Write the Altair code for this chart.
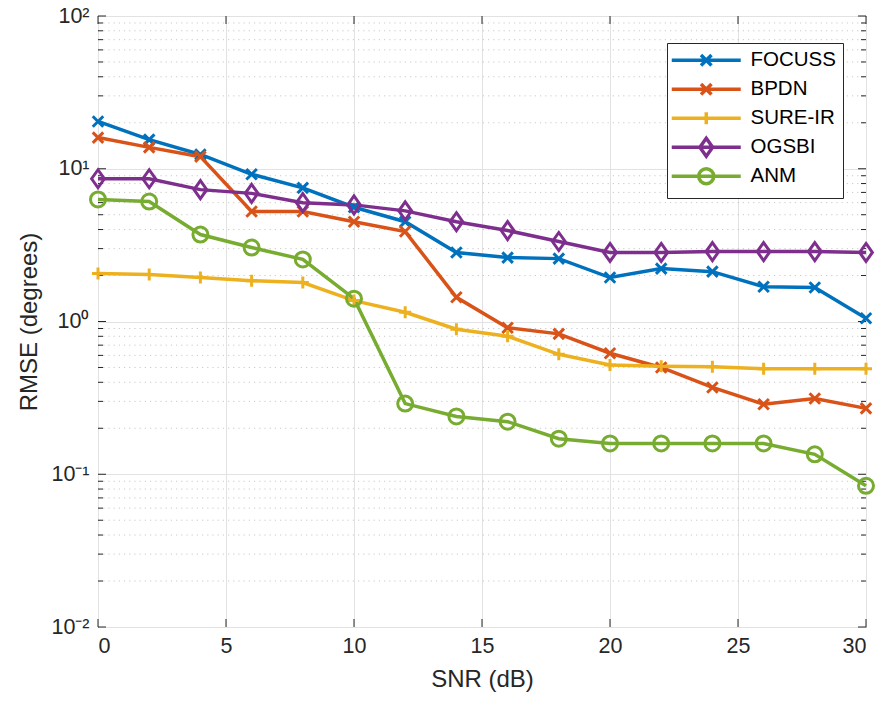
import altair as alt
import pandas as pd

# ---------------- data ----------------
snr = [0, 2, 4, 6, 8, 10, 12, 14, 16, 18, 20, 22, 24, 26, 28, 30]
focuss = [20.4, 15.5, 12.4, 9.2, 7.5, 5.6, 4.5, 2.83, 2.62, 2.58, 1.94, 2.22, 2.12, 1.69, 1.67, 1.05]
bpdn = [16.0, 13.8, 12.0, 5.25, 5.25, 4.5, 3.88, 1.44, 0.91, 0.83, 0.62, 0.50, 0.37, 0.287, 0.313, 0.27]
sure_ir = [2.06, 2.03, 1.94, 1.85, 1.80, 1.37, 1.15, 0.89, 0.80, 0.61, 0.52, 0.51, 0.505, 0.49, 0.49, 0.49]
ogsbi = [8.6, 8.6, 7.3, 6.9, 6.0, 5.8, 5.3, 4.5, 3.94, 3.34, 2.83, 2.83, 2.87, 2.87, 2.87, 2.83]
anm = [6.3, 6.1, 3.71, 3.05, 2.55, 1.41, 0.29, 0.239, 0.221, 0.171, 0.159, 0.159, 0.159, 0.159, 0.135, 0.084]

names = ["FOCUSS", "BPDN", "SURE-IR", "OGSBI", "ANM"]
colors = ["#0072BD", "#D95319", "#EDB120", "#7E2F8E", "#77AC30"]
series_values = [focuss, bpdn, sure_ir, ogsbi, anm]

x_ticks = [0, 5, 10, 15, 20, 25, 30]
y_major = [0.01, 0.1, 1, 10, 100]
y_minor = [m * d for d in [0.01, 0.1, 1, 10] for m in range(2, 10)]

mk_x = "M-0.7,-0.7L0.7,0.7M-0.7,0.7L0.7,-0.7"
mk_plus = "M-0.8,0L0.8,0M0,-0.8L0,0.8"
mk_diamond = "M0,-1.2L0.85,0L0,1.2L-0.85,0Z"
mk_circle = "M1,0A1,1 0 1,1 -1,0A1,1 0 1,1 1,0Z"
markers = [mk_x, mk_x, mk_plus, mk_diamond, mk_circle]
leg_line = "M-4.6,0L4.6,0"
legend_shapes = [leg_line + m for m in markers]

rows = []
for n, vals in zip(names, series_values):
    for s, v in zip(snr, vals):
        rows.append({"snr": s, "value": v, "series": n})
df = pd.DataFrame(rows)

W, H = 768, 611
FONT = "Liberation Sans"
TXT = "#262626"
LW = 3.5
MW = 3.0

xscale = alt.Scale(domain=[0, 30], nice=False, zero=False)
yscale = alt.Scale(type="log", domain=[0.01, 100], nice=False)
cscale = alt.Scale(domain=names, range=colors)

label_expr = ("datum.value > 50 ? '10²' : datum.value > 5 ? '10¹' : "
              "datum.value > 0.5 ? '10⁰' : datum.value > 0.05 ? '10⁻¹' : '10⁻²'")

x_axis = alt.Axis(values=x_ticks, title="SNR (dB)", grid=True, ticks=False,
                  domain=False, labelPadding=8, titlePadding=11)
y_axis = alt.Axis(values=y_major, title="RMSE (degrees)", grid=True, ticks=False,
                  domain=False, labelExpr=label_expr, labelPadding=9, titlePadding=9)

leg_props = dict(title=None, orient="none", legendX=569, legendY=27,
                 padding=7, strokeColor=TXT, fillColor="white",
                 labelFont=FONT, labelFontSize=20.5, labelColor="black",
                 symbolSize=225, symbolStrokeWidth=LW, symbolOffset=22,
                 labelOffset=34, rowPadding=-4, gridAlign="all", symbolOpacity=1)


def X():
    return alt.X("snr:Q", scale=xscale, axis=x_axis)


def Y():
    return alt.Y("value:Q", scale=yscale, axis=y_axis)


def C():
    return alt.Color("series:N", scale=cscale, legend=alt.Legend(**leg_props))


df_minor = pd.DataFrame({"value": y_minor})
df_major = pd.DataFrame({"value": y_major})
df_xt = pd.DataFrame({"snr": x_ticks})

minor_grid = alt.Chart(df_minor).mark_rule(color="#bdbdbd", strokeWidth=0.8,
                                           strokeDash=[1.2, 4]).encode(
    y=Y(), x=alt.value(0), x2=alt.value(W))

tick_layers = []
for x0, x1 in [(0, 8), (W - 8, W)]:
    tick_layers.append(alt.Chart(df_major).mark_rule(color=TXT, strokeWidth=1).encode(
        y=Y(), x=alt.value(x0), x2=alt.value(x1)))
for x0, x1 in [(0, 5), (W - 5, W)]:
    tick_layers.append(alt.Chart(df_minor).mark_rule(color=TXT, strokeWidth=1).encode(
        y=Y(), x=alt.value(x0), x2=alt.value(x1)))
for y0, y1 in [(H, H - 8), (0, 8)]:
    tick_layers.append(alt.Chart(df_xt).mark_rule(color=TXT, strokeWidth=1).encode(
        x=X(), y=alt.value(y0), y2=alt.value(y1)))

base = alt.Chart(df)
lines = base.mark_line(strokeWidth=LW).encode(x=X(), y=Y(), color=C(), detail="series:N")

point_layers = []
for n, m in zip(names, markers):
    point_layers.append(
        base.transform_filter(alt.datum.series == n)
        .mark_point(shape=m, size=225, filled=False, strokeWidth=MW, opacity=1)
        .encode(x=X(), y=Y(), color=C()))

legend_layer = (base.mark_point(size=225, filled=False, strokeWidth=LW, opacity=0)
                .encode(x=X(), y=Y(), color=C(),
                        shape=alt.Shape("series:N",
                                        scale=alt.Scale(domain=names, range=legend_shapes),
                                        legend=alt.Legend(**leg_props))))

chart = (alt.layer(minor_grid, *tick_layers, lines, *point_layers, legend_layer)
         .properties(width=W, height=H,
                     padding={"left": 98, "top": 16, "right": 19, "bottom": 75},
                     autosize=alt.AutoSizeParams(type="none"),
                     background="white")
         .configure_view(stroke=TXT, strokeWidth=1)
         .configure_axis(labelFont=FONT, titleFont=FONT, labelFontSize=21.5, titleFontSize=24,
                         titleFontWeight="normal", labelColor=TXT, titleColor=TXT,
                         gridColor="#e2e2e2", gridWidth=1))

chart.save("out.html", embed_options={"renderer": "svg", "actions": False})
